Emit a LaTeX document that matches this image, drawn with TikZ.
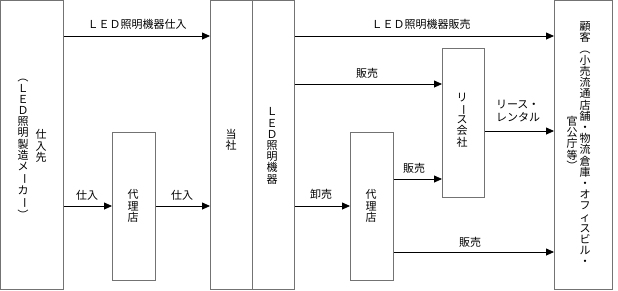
\documentclass[tikz,border=0pt]{standalone}
\usepackage{fontspec}
\usepackage{graphicx}
\newfontfamily\cjk{Noto Sans CJK JP}
\usetikzlibrary{arrows.meta}
\newcommand\vrot[1]{\rotatebox[origin=c]{-90}{#1}}
\tikzset{
  box/.style={draw=black!55, line width=0.8pt, anchor=north west, inner sep=0pt},
  arr/.style={draw=black, line width=0.8pt, -{Triangle[length=8pt,width=7pt]}},
  lbl/.style={font=\cjk\fontsize{11}{13}\selectfont, inner sep=0pt, text=black},
  vt/.style={font=\cjk\fontsize{11}{11.2}\selectfont, align=center, inner sep=0pt, text=black},
}
\begin{document}
\begin{tikzpicture}[x=1pt,y=-1pt]
\useasboundingbox (0,0) rectangle (618,290);
% boxes
\node[box, minimum width=63pt, minimum height=288.5pt] (sup) at (0.4,0.4) {};
\node[box, minimum width=43pt, minimum height=148pt] (ag1) at (112,132) {};
\node[box, minimum width=42pt, minimum height=288.5pt] (tosha) at (210,0.4) {};
\node[box, minimum width=42pt, minimum height=288.5pt] (led) at (252,0.4) {};
\node[box, minimum width=43pt, minimum height=148pt] (agt) at (350,132) {};
\node[box, minimum width=42pt, minimum height=149pt] (lease) at (442,48) {};
\node[box, minimum width=58pt, minimum height=288.5pt] (cust) at (554,0.4) {};
% vertical texts
\node[vt] (t1) at (41,146) {仕\\入\\先};
\node[vt] (t2) at (23,146) {\vrot{（}\\Ｌ\\Ｅ\\Ｄ\\照\\明\\製\\造\\メ\\\vrot{ー}\\カ\\\vrot{ー}\\\vrot{）}};
\node[vt] (t3) at (133,206) {代\\理\\店};
\node[vt] (t4) at (231,140) {当\\社};
\node[vt] (t5) at (272,146) {Ｌ\\Ｅ\\Ｄ\\照\\明\\機\\器};
\node[vt] (t6) at (371,206) {代\\理\\店};
\node[vt] (t7) at (462,120) {リ\\\vrot{ー}\\ス\\会\\社};
\node[vt] (t8) at (585,144) {顧\\客\\\vrot{（}\\小\\売\\流\\通\\店\\舗\\・\\物\\流\\倉\\庫\\・\\オ\\フ\\ィ\\ス\\ビ\\ル\\・};
\node[vt] (t9) at (572,144) {官\\公\\庁\\等\\\vrot{）}};
% arrows
\draw[arr] (sup.east |- 0,36) -- (tosha.west |- 0,36);
\node[lbl] (l1) at (137,24) {ＬＥＤ照明機器仕入};
\draw[arr] (sup.east |- 0,206) -- (ag1.west |- 0,206);
\node[lbl] (l2) at (87,195) {仕入};
\draw[arr] (ag1.east |- 0,206) -- (tosha.west |- 0,206);
\node[lbl] (l3) at (182,195) {仕入};
\draw[arr] (led.east |- 0,36) -- (cust.west |- 0,36);
\node[lbl] (l4) at (421,24) {ＬＥＤ照明機器販売};
\draw[arr] (led.east |- 0,84) -- (lease.west |- 0,84);
\node[lbl] (l5) at (367,73) {販売};
\draw[arr] (led.east |- 0,206) -- (agt.west |- 0,206);
\node[lbl] (l6) at (321,194) {卸売};
\draw[arr] (agt.east |- 0,179) -- (lease.west |- 0,179);
\node[lbl] (l7) at (414,168) {販売};
\draw[arr] (agt.east |- 0,252) -- (cust.west |- 0,252);
\node[lbl] (l8) at (470,242) {販売};
\draw[arr] (lease.east |- 0,131) -- (cust.west |- 0,131);
\node[lbl, align=left] (l9) at (518,111) {リース・\\レンタル};
\end{tikzpicture}
\end{document}
